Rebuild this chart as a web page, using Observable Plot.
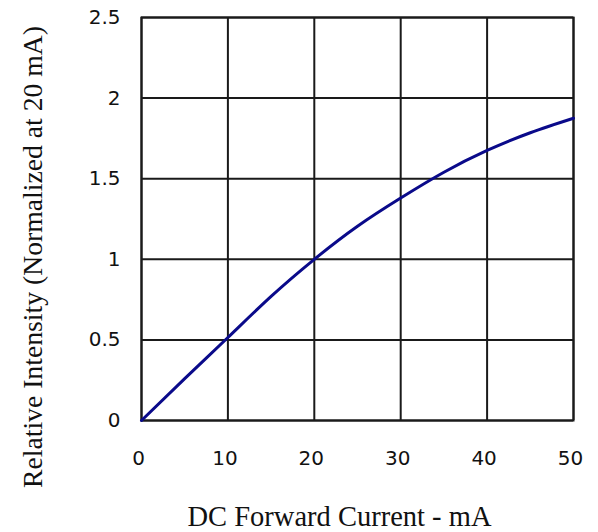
<!DOCTYPE html>
<html>
<head>
<meta charset="utf-8">
<script src="https://cdn.jsdelivr.net/npm/d3@7"></script>
<script src="https://cdn.jsdelivr.net/npm/@observablehq/plot@0.6"></script>
<style>
  html, body { margin: 0; padding: 0; background: #fff; }
</style>
</head>
<body>
<div id="chart"></div>
<script>
const current = [0, 5, 10, 15, 20, 25, 30, 35, 40, 45, 50];
const intensity = [0, 0.26, 0.515, 0.77, 1.0, 1.205, 1.38, 1.54, 1.675, 1.785, 1.875];
const xTicks = [0, 10, 20, 30, 40, 50];
const yTicks = [0, 0.5, 1, 1.5, 2, 2.5];
const yTickLabels = ["0", "0.5", "1", "1.5", "2", "2.5"];
const xLabel = "DC Forward Current - mA";
const yLabel = "Relative Intensity (Normalized at 20 mA)";

const data = current.map((c, i) => ({ x: c, y: intensity[i] }));

const chart = Plot.plot({
  width: 598,
  height: 532,
  marginLeft: 141,
  marginRight: 25,
  marginTop: 17,
  marginBottom: 112,
  style: { background: "#fff" },
  x: { domain: [0, 50], ticks: xTicks },
  y: { domain: [0, 2.5], ticks: yTicks },
  marks: [
    Plot.gridX(xTicks, { stroke: "#1a1a1a", strokeOpacity: 1, strokeWidth: 2 }),
    Plot.gridY(yTicks, { stroke: "#1a1a1a", strokeOpacity: 1, strokeWidth: 2 }),
    Plot.frame({ stroke: "#1a1a1a", strokeWidth: 2 }),
    Plot.axisX(xTicks, {
      tickSize: 0, tickPadding: 30, label: null,
      fontSize: 20, fontFamily: "DejaVu Sans", fill: "#111",
      dx: -3
    }),
    Plot.axisY(yTicks, {
      tickSize: 0, tickPadding: 21, label: null,
      tickFormat: (d, i) => yTickLabels[i],
      fontSize: 20, fontFamily: "DejaVu Sans", fill: "#111"
    }),
    Plot.line(data, {
      x: "x", y: "y", curve: "natural",
      stroke: "#0a0a8a", strokeWidth: 3
    }),
    Plot.text([xLabel], {
      text: d => d, frameAnchor: "bottom", lineAnchor: "bottom",
      dy: 105, dx: -18, fontSize: 28.5, fontFamily: "Liberation Serif", fill: "#111"
    }),
    Plot.text([yLabel], {
      text: d => d, frameAnchor: "left", lineAnchor: "middle", textAnchor: "middle",
      rotate: -90,
      dx: -108, dy: 38, fontSize: 27.7, fontFamily: "Liberation Serif", fill: "#111"
    })
  ]
});

document.getElementById("chart").appendChild(chart);
</script>
</body>
</html>
